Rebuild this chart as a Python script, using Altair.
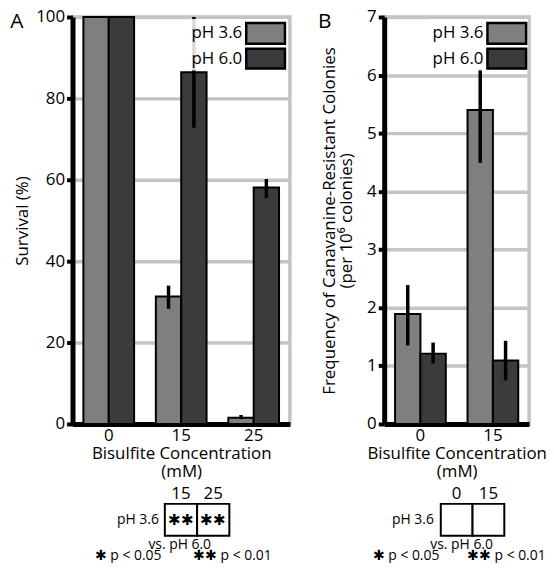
import altair as alt
import pandas as pd

FONT = "Open Sans"

series = ["pH 3.6", "pH 6.0"]
colors = ["#7f7f82", "#3b3b3d"]

# Panel A: survival (%)
concA = ["0", "15", "25"]
A_ph36 = [100, 31.3, 1.5]
A_ph36_lo = [None, 28.3, 1.2]
A_ph36_hi = [None, 34.0, 2.2]
A_ph60 = [100, 86.4, 58.1]
A_ph60_lo = [None, 72.8, 55.5]
A_ph60_hi = [None, 100.0, 60.2]
A_yticks = [0, 20, 40, 60, 80, 100]

# Panel B: frequency of canavanine-resistant colonies
concB = ["0", "15"]
B_ph36 = [1.89, 5.40]
B_ph36_lo = [1.35, 4.49]
B_ph36_hi = [2.39, 6.11]
B_ph60 = [1.21, 1.09]
B_ph60_lo = [1.04, 0.75]
B_ph60_hi = [1.40, 1.43]
B_yticks = [0, 1, 2, 3, 4, 5, 6, 7]

# significance tables
tableA_cols = ["15", "25"]
tableA_marks = ["✱✱", "✱✱"]
tableB_cols = ["0", "15"]
tableB_marks = ["", ""]

row_label = "pH 3.6"
vs_label = "vs. pH 6.0"
p_labels = ["✱ p < 0.05", "✱✱ p < 0.01"]

GRID = "#c4c4c4"
color_scale = alt.Scale(domain=series, range=colors)


def text_mark(txt, x, y, size=14, align="center"):
    return alt.Chart(alt.Data(values=[{}])).mark_text(
        text=txt, align=align, baseline="middle", fontSize=size, font=FONT, color="black"
    ).encode(x=alt.value(x), y=alt.value(y))


def panel(letter, conc, s36, lo36, hi36, s60, lo60, hi60, yticks, ytitle, width,
          tcols, tmarks, trange, lay):
    rows = []
    for i, c in enumerate(conc):
        rows.append(dict(conc=c, ph=series[0], v=s36[i], lo=lo36[i], hi=hi36[i]))
        rows.append(dict(conc=c, ph=series[1], v=s60[i], lo=lo60[i], hi=hi60[i]))
    df = pd.DataFrame(rows)
    x = alt.X("conc:N", sort=conc,
              scale=alt.Scale(paddingInner=0.3, paddingOuter=0.15),
              axis=alt.Axis(title=["Bisulfite Concentration", "(mM)"], ticks=False, grid=False,
                            labelAngle=0, labelFontSize=17, labelFont=FONT, labelColor="black",
                            labelPadding=4, domainColor="black", domainWidth=5,
                            titleFontSize=17, titleFont=FONT, titleFontWeight="normal",
                            titleColor="black", titlePadding=2, titleLineHeight=17.5))
    xo = alt.XOffset("ph:N", sort=series, scale=alt.Scale(paddingInner=0, paddingOuter=0))
    y = alt.Y("v:Q", scale=alt.Scale(domain=[yticks[0], yticks[-1]], nice=False),
              axis=alt.Axis(title=ytitle, values=yticks, format="d", grid=True, gridColor=GRID,
                            gridWidth=3.5, domainColor="black", domainWidth=5, tickColor="black",
                            tickWidth=4, tickSize=6, labelFontSize=17, labelFont=FONT,
                            labelColor="black", labelPadding=2, titleFontSize=17, titleFont=FONT,
                            titleFontWeight="normal", titleColor="black",
                            titlePadding=lay["title_pad"], titleLineHeight=17.5))
    color = alt.Color("ph:N", sort=series, scale=color_scale, legend=None)
    bars = alt.Chart(df).mark_bar(stroke="black", strokeWidth=2).encode(
        x=x, xOffset=xo, y=y, color=color
    )
    errs = alt.Chart(df).mark_rule(color="black", strokeWidth=3.5).encode(
        x=x, xOffset=xo, y="lo:Q", y2="hi:Q"
    )

    # legend (labels to the left of the swatches)
    sx, sx2 = lay["sw_x"], lay["sw_x2"]
    legend_layers = [
        alt.Chart(alt.Data(values=[{}])).mark_rect(fill="white", opacity=0.85).encode(
            x=alt.value(lay["bg_x"]), x2=alt.value(sx2 + 2), y=alt.value(2), y2=alt.value(54)
        )
    ]
    row_y = [(6, 27), (32, 52)]
    for i, s in enumerate(series):
        ld = pd.DataFrame({"ph": [s]})
        legend_layers.append(
            alt.Chart(ld).mark_rect(stroke="black", strokeWidth=2.5).encode(
                x=alt.value(sx), x2=alt.value(sx2), y=alt.value(row_y[i][0]),
                y2=alt.value(row_y[i][1]),
                color=alt.Color("ph:N", scale=color_scale, legend=None))
        )
        legend_layers.append(
            alt.Chart(ld).mark_text(align="right", baseline="middle", fontSize=17, font=FONT,
                                    color="black").encode(
                x=alt.value(sx - 4), y=alt.value((row_y[i][0] + row_y[i][1]) / 2), text="ph:N")
        )

    main = alt.layer(
        bars, errs, *legend_layers,
        text_mark(letter, lay["letter_x"], 5, size=21),
    ).properties(width=width, height=410)

    # significance table
    tdf = pd.DataFrame({"col": tcols, "mark": tmarks})
    tx = alt.X("col:N", sort=tcols,
               scale=alt.Scale(range=trange, paddingInner=0, paddingOuter=0), axis=None)
    cells = alt.Chart(tdf).mark_rect(fill="white", stroke="black", strokeWidth=2).encode(
        x=tx, y=alt.value(18.5), y2=alt.value(50.5)
    )
    heads = alt.Chart(tdf).mark_text(fontSize=17, font=FONT, color="black", baseline="middle").encode(
        x=tx, y=alt.value(8.5), text="col:N"
    )
    stars = alt.Chart(tdf).mark_text(fontSize=15, font=FONT, color="black", baseline="middle").encode(
        x=tx, y=alt.value(34.5), text="mark:N"
    )
    table = alt.layer(
        cells, heads, stars,
        text_mark(row_label, lay["row_x"], 34.5, size=14, align="right"),
        text_mark(vs_label, lay["vs_x"], 59.5, size=14),
        text_mark(p_labels[0], lay["p1_x"], 71.5, size=14),
        text_mark(p_labels[1], lay["p2_x"], 71.5, size=14),
    ).properties(width=width, height=79, view=alt.ViewBackground(strokeOpacity=0))

    return alt.vconcat(main, table, spacing=3)


pA = panel("A", concA, A_ph36, A_ph36_lo, A_ph36_hi, A_ph60, A_ph60_lo, A_ph60_hi,
           A_yticks, "Survival (%)", 219, tableA_cols, tableA_marks, [93, 158],
           dict(letter_x=-56, row_x=87, vs_x=108, p1_x=56, p2_x=161,
                sw_x=175, sw_x2=214, bg_x=117, title_pad=4))
pB = panel("B", concB, B_ph36, B_ph36_lo, B_ph36_hi, B_ph60, B_ph60_lo, B_ph60_hi,
           B_yticks, ["Frequency of Canavanine-Resistant Colonies", "(per 10⁶ colonies)"],
           146, tableB_cols, tableB_marks, [57, 121],
           dict(letter_x=-60, row_x=50, vs_x=78, p1_x=22, p2_x=123,
                sw_x=104, sw_x2=143, bg_x=44, title_pad=11))

chart = alt.hconcat(pA, pB, spacing=24).properties(
    padding={"left": 0, "top": -4, "right": -3, "bottom": -3}
).configure(font=FONT).configure_view(
    stroke=GRID, strokeWidth=3.5
)

chart.save("out.html", embed_options={"renderer": "svg", "actions": False})
